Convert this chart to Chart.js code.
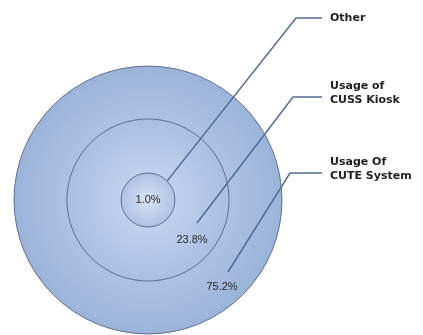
<!DOCTYPE html>
<html lang="en">
<head>
    <meta charset="UTF-8">
    <title>CUTE / CUSS usage</title>
    <script src="https://cdn.jsdelivr.net/npm/chart.js"></script>
    <style>
        body { margin: 0; background: #fff; }
        #wrap { width: 423px; height: 335px; }
    </style>
</head>
<body>
    <div id="wrap"><canvas id="usageChart"></canvas></div>
    <script>
        // outer ring first so the smaller circles are drawn on top
        var categories = ['Usage Of CUTE System', 'Usage of CUSS Kiosk', 'Other'];
        var shares = [75.2, 23.8, 1.0];
        var labelLines = [['Usage Of', 'CUTE System'], ['Usage of', 'CUSS Kiosk'], ['Other']];

        // circle size grows with the square root of the share
        function ringRadius(v) {
            return 13 + 13.95 * Math.sqrt(v);
        }

        var gradStops = [
            [[0, '#bdcfea'], [0.6, '#adc2e3'], [1, '#9cb4da']],
            [[0, '#cddbf0'], [0.35, '#bfd1ec'], [1, '#a9bfe2']],
            [[0, '#d8e3f4'], [1, '#adc2e3']]
        ];

        function fillFor(ctx) {
            var chart = ctx.chart;
            if (!chart.chartArea || ctx.dataIndex === undefined) return '#a9bfe0';
            var raw = ctx.raw;
            var cx = chart.scales.x.getPixelForValue(raw.x);
            var cy = chart.scales.y.getPixelForValue(raw.y);
            var g = chart.ctx.createRadialGradient(cx, cy, 0, cx, cy, raw.r);
            gradStops[ctx.dataIndex].forEach(function(s) { g.addColorStop(s[0], s[1]); });
            return g;
        }

        // leader lines and labels, laid out around the circles
        var calloutPlugin = {
            id: 'callouts',
            afterDatasetsDraw: function(chart) {
                var c = chart.ctx;
                var pts = chart.getDatasetMeta(0).data;
                var cx = pts[0].x, cy = pts[0].y;
                var rIn = pts[2].options.radius;

                // where the percentage sits for each circle
                var valuePos = [
                    [cx + 74, cy + 87],
                    [cx + 44, cy + 40],
                    [cx, cy]
                ];
                // start of the leader line
                var lineStart = [
                    [valuePos[0][0] + 6, valuePos[0][1] - 15],
                    [valuePos[1][0] + 5, valuePos[1][1] - 17],
                    [cx + rIn * 0.72, cy - rIn * 0.72]
                ];
                var elbowY = [173, 97, 18];
                var elbowX = [290, 293, 296];

                c.save();
                c.strokeStyle = '#4f6d98';
                c.lineWidth = 1.5;
                for (var i = 0; i < shares.length; i++) {
                    c.beginPath();
                    c.moveTo(lineStart[i][0], lineStart[i][1]);
                    c.lineTo(elbowX[i], elbowY[i]);
                    c.lineTo(322, elbowY[i]);
                    c.stroke();
                }

                c.fillStyle = '#2a2a2a';
                c.font = '11px "Liberation Sans"';
                c.textAlign = 'center';
                c.textBaseline = 'middle';
                for (var j = 0; j < shares.length; j++) {
                    c.fillText(shares[j].toFixed(1) + '%', valuePos[j][0], valuePos[j][1]);
                }

                c.fillStyle = '#1e1e1e';
                c.font = 'bold 11px "DejaVu Sans"';
                c.textAlign = 'left';
                for (var k = 0; k < labelLines.length; k++) {
                    var lines = labelLines[k];
                    var top = elbowY[k] - (lines.length - 1) * 14 / 2 - (lines.length > 1 ? 4 : 0);
                    for (var n = 0; n < lines.length; n++) {
                        c.fillText(lines[n], 330, top + n * 14);
                    }
                }
                c.restore();
            }
        };

        var ctx = document.getElementById('usageChart').getContext('2d');
        var usageChart = new Chart(ctx, {
            type: 'bubble',
            data: {
                labels: categories,
                datasets: [{
                    label: 'Usage',
                    data: shares.map(function(v) { return { x: 0, y: 0, r: ringRadius(v) }; }),
                    backgroundColor: fillFor,
                    borderColor: '#5d6f8c',
                    borderWidth: 1,
                    clip: false
                }]
            },
            options: {
                responsive: true,
                maintainAspectRatio: false,
                animation: false,
                layout: { padding: 0, autoPadding: false },
                scales: {
                    x: { display: false, min: -148, max: 275 },
                    y: { display: false, min: -135, max: 200 }
                },
                plugins: {
                    legend: { display: false },
                    tooltip: { enabled: false }
                }
            },
            plugins: [calloutPlugin]
        });
    </script>
</body>
</html>
